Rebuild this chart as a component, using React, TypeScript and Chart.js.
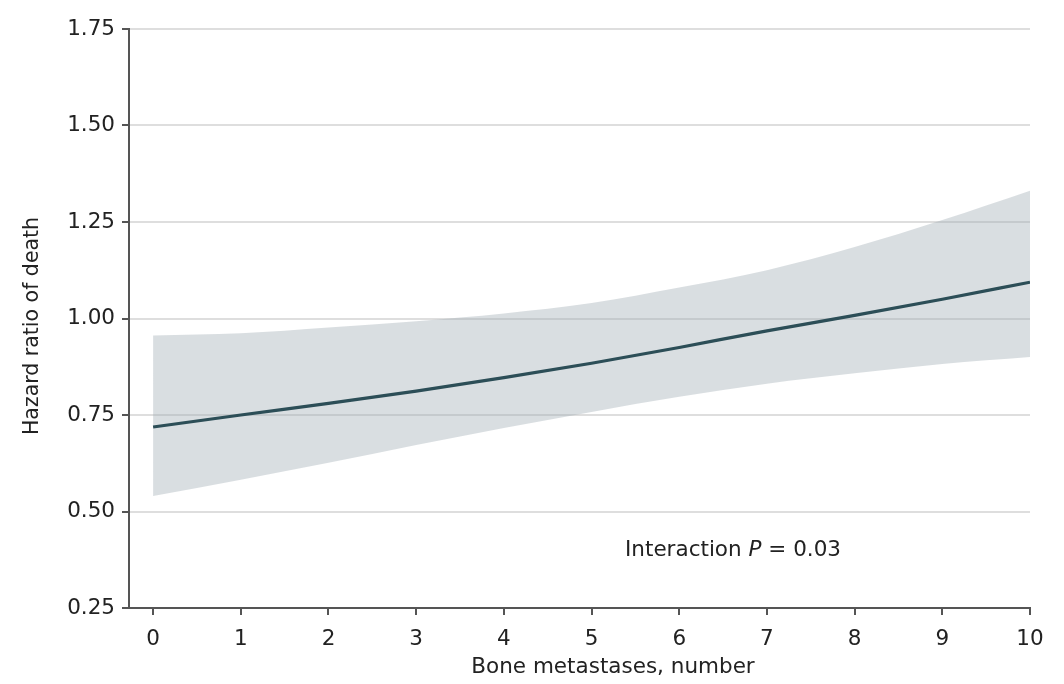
import React, { useEffect, useRef } from "react";
import { Chart, registerables } from "chart.js";

Chart.register(...registerables);

const xValues = [0, 1, 2, 3, 4, 5, 6, 7, 8, 9, 10];
const hazardRatio = [0.719, 0.75, 0.78, 0.812, 0.847, 0.884, 0.925, 0.968, 1.008, 1.05, 1.094];
const upperCI = [0.956, 0.962, 0.977, 0.993, 1.013, 1.04, 1.08, 1.125, 1.185, 1.255, 1.331];
const lowerCI = [0.54, 0.582, 0.626, 0.672, 0.716, 0.758, 0.797, 0.831, 0.858, 0.882, 0.9];
const xTicks = [0, 1, 2, 3, 4, 5, 6, 7, 8, 9, 10];
const yTicks = [0.25, 0.5, 0.75, 1.0, 1.25, 1.5, 1.75];

const FONT = "'DejaVu Sans', Verdana, sans-serif";
const TEXT = "#222";
const AXIS = "#555";

export default function App() {
  const ref = useRef<HTMLCanvasElement | null>(null);

  useEffect(() => {
    if (!ref.current) return;
    const pts = (arr: number[]) => xValues.map((x, i) => ({ x, y: arr[i] }));

    const labelsPlugin = {
      id: "customLabels",
      afterDraw(chart: any) {
        const ctx = chart.ctx;
        ctx.save();
        ctx.fillStyle = TEXT;
        ctx.font = `21.5px ${FONT}`;
        ctx.textAlign = "center";
        ctx.textBaseline = "middle";
        // x title
        ctx.fillText("Bone metastases, number", 613, 667);
        // y title
        ctx.translate(33, 326);
        ctx.rotate(-Math.PI / 2);
        ctx.font = `20.5px ${FONT}`;
        ctx.fillText("Hazard ratio of death", 0, 0);
        ctx.restore();

        // annotation
        ctx.save();
        ctx.fillStyle = TEXT;
        ctx.textBaseline = "middle";
        ctx.textAlign = "left";
        const y = 550;
        let x = 625;
        const parts: [string, string][] = [
          ["Interaction ", `21.5px ${FONT}`],
          ["P", `italic 21.5px ${FONT}`],
          [" = 0.03", `21.5px ${FONT}`],
        ];
        for (const [t, f] of parts) {
          ctx.font = f;
          ctx.fillText(t, x, y);
          x += ctx.measureText(t).width;
        }
        ctx.restore();
      },
    };

    const chart = new Chart(ref.current, {
      type: "line",
      data: {
        datasets: [
          {
            label: "HR",
            data: pts(hazardRatio),
            borderWidth: 3.2,
            pointRadius: 0,
            fill: false,
            borderColor: "#2c4e57",
            cubicInterpolationMode: "monotone",
            order: 0,
          },
          {
            label: "Upper",
            data: pts(upperCI),
            borderWidth: 0,
            pointRadius: 0,
            fill: "+1",
            backgroundColor: "rgba(160,172,180,0.4)",
            borderColor: "rgba(0,0,0,0)",
            cubicInterpolationMode: "monotone",
            order: 1,
          },
          {
            label: "Lower",
            data: pts(lowerCI),
            borderWidth: 0,
            pointRadius: 0,
            fill: false,
            borderColor: "rgba(0,0,0,0)",
            cubicInterpolationMode: "monotone",
            order: 2,
          },
        ],
      },
      options: {
        animation: false,
        responsive: false,
        maintainAspectRatio: false,
        layout: { padding: { left: 0, top: 29, right: 34, bottom: 0 } },
        plugins: {
          legend: { display: false },
          tooltip: { enabled: false },
        },
        scales: {
          x: {
            type: "linear",
            min: -0.275,
            max: 10,
            afterBuildTicks: (s: any) => {
              s.ticks = xTicks.map((v) => ({ value: v }));
            },
            afterFit: (s: any) => {
              s.height = 76;
            },
            grid: {
              drawOnChartArea: false,
              drawTicks: true,
              tickLength: 7,
              tickColor: AXIS,
              lineWidth: 2,
            },
            border: { display: true, color: AXIS, width: 2 },
            ticks: {
              color: TEXT,
              font: { family: FONT, size: 21.5 },
              padding: 12,
              maxRotation: 0,
              autoSkip: false,
            },
          },
          y: {
            type: "linear",
            min: 0.25,
            max: 1.75,
            afterBuildTicks: (s: any) => {
              s.ticks = yTicks.map((v) => ({ value: v }));
            },
            afterFit: (s: any) => {
              s.width = 129;
            },
            grid: {
              color: "#dedede",
              lineWidth: 2,
              drawTicks: true,
              tickLength: 7,
              tickColor: AXIS,
            },
            border: { display: true, color: AXIS, width: 2 },
            ticks: {
              color: TEXT,
              font: { family: FONT, size: 21.5 },
              padding: 7,
              callback: (v: any) => Number(v).toFixed(2),
            },
          },
        },
      },
      plugins: [labelsPlugin],
    } as any);

    return () => chart.destroy();
  }, []);

  return (
    <div style={{ position: "absolute", left: 0, top: 0, width: 1064, height: 684, background: "#fff" }}>
      <canvas ref={ref} width={1064} height={684} style={{ display: "block" }} />
    </div>
  );
}
